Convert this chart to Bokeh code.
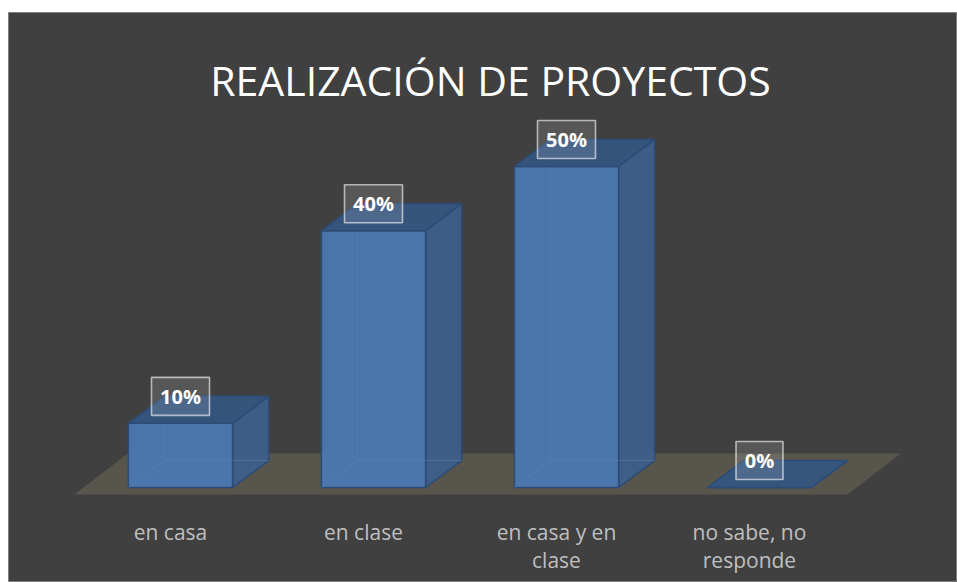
from bokeh.plotting import figure
from bokeh.models import Range1d, Label, Spacer
from bokeh.layouts import column, row
from bokeh.core.properties import value
from bokeh.embed import file_html
from bokeh.resources import INLINE

# ---------------- data ----------------
categories = ["en casa", "en clase", "en casa y en\nclase", "no sabe, no\nresponde"]
percentages = [10, 40, 50, 0]
value_labels = ["10%", "40%", "50%", "0%"]
title_text = "REALIZACIÓN DE PROYECTOS"

# ---------------- style / layout constants ----------------
BG = "#404040"
FLOOR = "#57554c"
FRONT = "#4a78b1"
SIDE = "#3d5f8b"
TOP = "#35557f"
EDGE = "#2c4c77"
HALF_W = 0.27        # half bar width (category units)
DX = 0.1865          # 3D depth shift in x (category units)
DY = 4.2             # 3D depth shift in y (percent units)
FLOOR_FRONT_Y = -1.09
FLOOR_DEPTH_Y = 6.39
FLOOR_DX = 0.277
FLOOR_LEFT = -0.55
FLOOR_RIGHT_PAD = 0.456

W, H = 949, 570
p = figure(width=W, height=H, output_backend="svg", toolbar_location=None,
           x_axis_location=None, y_axis_location=None,
           x_range=Range1d(-0.8912, 4.0259), y_range=Range1d(-14.80, 73.99))
p.min_border = 0
p.grid.visible = False
p.background_fill_color = BG
p.border_fill_color = BG
p.outline_line_color = "#7f7f7f"
p.outline_line_width = 1

n = len(categories)

# floor
fl_r = (n - 1) + FLOOR_RIGHT_PAD
p.patch([FLOOR_LEFT, fl_r, fl_r + FLOOR_DX, FLOOR_LEFT + FLOOR_DX],
        [FLOOR_FRONT_Y, FLOOR_FRONT_Y, FLOOR_FRONT_Y + FLOOR_DEPTH_Y, FLOOR_FRONT_Y + FLOOR_DEPTH_Y],
        fill_color=FLOOR, line_color=None)

# bars
front_xs, front_ys, side_xs, side_ys, top_xs, top_ys = [], [], [], [], [], []
hid_xs, hid_ys = [], []
for i, v in enumerate(percentages):
    x0, x1 = i - HALF_W, i + HALF_W
    front_xs.append([x0, x1, x1, x0]); front_ys.append([0, 0, v, v])
    side_xs.append([x1, x1 + DX, x1 + DX, x1]); side_ys.append([0, DY, v + DY, v])
    top_xs.append([x0, x1, x1 + DX, x0 + DX]); top_ys.append([v, v, v + DY, v + DY])
    # hidden back edges
    hid_xs += [[x0, x0 + DX], [x0 + DX, x0 + DX], [x0 + DX, x1 + DX]]
    hid_ys += [[0, DY], [DY, v + DY], [DY, DY]]

p.patches(side_xs, side_ys, fill_color=SIDE, fill_alpha=0.95, line_color=EDGE, line_width=1.5)
p.patches(front_xs, front_ys, fill_color=FRONT, fill_alpha=0.95, line_color=EDGE, line_width=1.5)
p.multi_line(hid_xs, hid_ys, line_color="#5b86c0", line_alpha=0.45, line_width=1)
p.patches(top_xs, top_ys, fill_color=TOP, fill_alpha=0.95, line_color=EDGE, line_width=1.5)

# value label boxes
box_x = list(range(n))
box_y = [v + DY for v in percentages]
box_w = [25 + 11 * len(s) for s in value_labels]
p.rect(box_x, box_y, width=box_w, height=38, width_units="screen", height_units="screen",
       fill_color="white", fill_alpha=0.12, line_color="white", line_alpha=0.6, line_width=1.6)
p.text(box_x, box_y, text=value_labels, text_color="white", text_font=value("Open Sans"),
       text_font_style="bold", text_font_size="20px", text_align="center", text_baseline="middle")

# category labels
lab_x = [i - 0.052 for i in range(n)]
line1 = [c.split("\n")[0] for c in categories]
line2 = [c.split("\n")[1] if "\n" in c else "" for c in categories]
p.text(lab_x, [-7.01] * n, text=line1, text_color="#bfbfbf", text_font=value("Open Sans"),
       text_font_size="21px", text_align="center", text_baseline="alphabetic")
p.text(lab_x, [-11.37] * n, text=line2, text_color="#bfbfbf", text_font=value("Open Sans"),
       text_font_size="21px", text_align="center", text_baseline="alphabetic")

# title
p.add_layout(Label(x=482, y=H - 67, x_units="screen", y_units="screen", text=title_text,
                   text_color="white", text_font="Open Sans", text_font_size="41px",
                   text_align="center", text_baseline="alphabetic"))

layout = row(Spacer(width=8, height=H + 12), column(Spacer(height=12, width=W), p))
open("out.html", "w").write(file_html(layout, INLINE))
